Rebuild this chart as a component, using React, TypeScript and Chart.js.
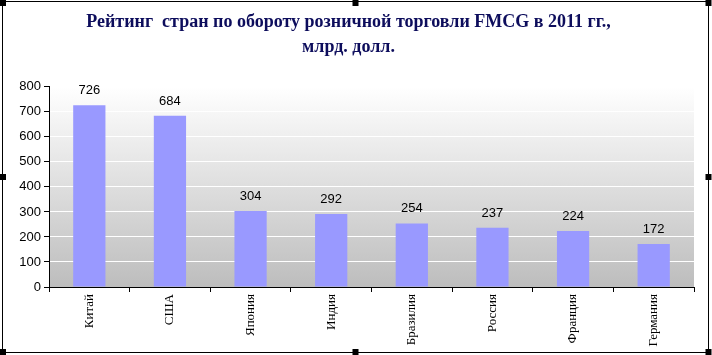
import React, { useEffect, useRef } from "react";
import { Chart, registerables } from "chart.js";

Chart.register(...registerables);

const categories = ["Китай", "США", "Япония", "Индия", "Бразилия", "Россия", "Франция", "Германия"];
const values = [726, 684, 304, 292, 254, 237, 224, 172];
const titleLines = ["Рейтинг  стран по обороту розничной торговли FMCG в 2011 гг.,", "млрд. долл."];
const yMin = 0;
const yMax = 800;
const yStep = 100;

const bgPlugin = {
  id: "plotBg",
  beforeDraw(chart: any) {
    const { ctx, chartArea } = chart;
    if (!chartArea) return;
    ctx.save();
    ctx.fillStyle = "#ffffff";
    ctx.fillRect(0, 0, chart.width, chart.height);
    const g = ctx.createLinearGradient(0, chartArea.top, 0, chartArea.bottom);
    g.addColorStop(0, "#ffffff");
    g.addColorStop(1, "#bdbdbd");
    ctx.fillStyle = g;
    ctx.fillRect(chartArea.left, chartArea.top, chartArea.right - chartArea.left, chartArea.bottom - chartArea.top);
    ctx.restore();
  },
  afterDraw(chart: any) {
    const { ctx } = chart;
    ctx.save();
    ctx.strokeStyle = "#000";
    ctx.lineWidth = 1;
    const l = 2.5, t = 1.5, r = 708.5, b = 352.5;
    ctx.strokeRect(l, t, r - l, b - t);
    ctx.fillStyle = "#000";
    const s = 6;
    const pts = [
      [l, t], [(l + r) / 2, t], [r, t],
      [l, (t + b) / 2], [r, (t + b) / 2],
      [l, b], [(l + r) / 2, b], [r, b],
    ];
    for (const [x, y] of pts) {
      const px = Math.max(0, Math.min(712 - s, x - s / 2));
      const py = Math.max(0, Math.min(355 - s, y - s / 2));
      ctx.fillRect(px, py, s, s);
    }
    ctx.restore();
  },
};

const labelPlugin = {
  id: "valueLabels",
  afterDatasetsDraw(chart: any) {
    const { ctx } = chart;
    const meta = chart.getDatasetMeta(0);
    ctx.save();
    ctx.fillStyle = "#000";
    ctx.font = "13px 'Liberation Sans', Arial, sans-serif";
    ctx.textAlign = "center";
    ctx.textBaseline = "alphabetic";
    meta.data.forEach((bar: any, i: number) => {
      ctx.fillText(String(values[i]), bar.x, bar.y - 11);
    });
    ctx.restore();
  },
};

export default function App() {
  const ref = useRef<HTMLCanvasElement | null>(null);
  useEffect(() => {
    if (!ref.current) return;
    const chart = new Chart(ref.current, {
      type: "bar",
      data: {
        labels: categories,
        datasets: [
          {
            data: values,
            backgroundColor: "#9999ff",
            borderWidth: 0,
            categoryPercentage: 0.8,
            barPercentage: 0.5,
          },
        ],
      },
      options: {
        responsive: false,
        animation: false,
        layout: { padding: { left: 3, right: 18, top: 0, bottom: 2 } },
        plugins: {
          legend: { display: false },
          tooltip: { enabled: false },
          title: {
            display: true,
            text: titleLines,
            color: "#0d0d5c",
            font: { family: "'Liberation Serif', 'Times New Roman', serif", size: 18, weight: "bold", lineHeight: 1.39 },
            padding: { top: 9.5, bottom: 27.3 },
          },
        },
        scales: {
          x: {
            grid: { drawOnChartArea: false, drawTicks: true, tickLength: 5, offset: true, tickColor: "#000", color: "#000" },
            border: { color: "#000", width: 1 },
            ticks: {
              minRotation: 90,
              maxRotation: 90,
              color: "#000",
              padding: 2,
              font: { family: "'Liberation Serif', 'Times New Roman', serif", size: 13 },
            },
            afterFit(scale: any) {
              scale.height = 66;
            },
          },
          y: {
            min: yMin,
            max: yMax,
            ticks: {
              stepSize: yStep,
              color: "#000",
              padding: 3,
              font: { family: "'Liberation Sans', Arial, sans-serif", size: 13 },
            },
            grid: { color: "#ffffff", lineWidth: 1, tickLength: 5, tickColor: "#000", drawTicks: true },
            border: { color: "#000", width: 1 },
            afterFit(scale: any) {
              scale.width = 46;
            },
          },
        },
      },
      plugins: [bgPlugin, labelPlugin],
    });
    return () => chart.destroy();
  }, []);
  return (
    <div style={{ position: "fixed", left: 0, top: 0, width: 712, height: 355 }}>
      <canvas ref={ref} width={712} height={355} style={{ display: "block", width: 712, height: 355 }} />
    </div>
  );
}
